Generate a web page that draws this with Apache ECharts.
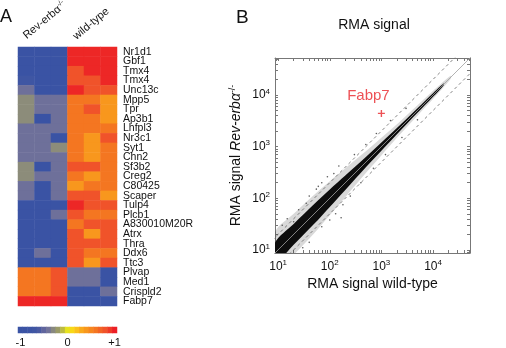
<!DOCTYPE html>
<html>
<head>
<meta charset="utf-8">
<script src="https://cdn.jsdelivr.net/npm/echarts@6/dist/echarts.min.js"></script>
<style>
  html, body { margin: 0; padding: 0; background: #fff; }
  #chart { width: 506px; height: 348px; }
</style>
</head>
<body>
<div id="chart"></div>
<script>
// ---- panel A: heatmap ----
const genes = ['Nr1d1', 'Gbf1', 'Tmx4', 'Tmx4', 'Unc13c', 'Mpp5', 'Tpr', 'Ap3b1', 'Lhfpl3',
  'Nr3c1', 'Syt1', 'Chn2', 'Sf3b2', 'Creg2', 'C80425', 'Scaper', 'Tulp4', 'Plcb1',
  'A830010M20R', 'Atrx', 'Thra', 'Ddx6', 'Ttc3', 'Plvap', 'Med1', 'Crispld2', 'Fabp7'];
const sampleCols = ['KO1', 'KO2', 'KO3', 'WT1', 'WT2', 'WT3'];
// normalised expression, one row per gene: 3 Rev-erba-/- then 3 wild-type
const expression = [
  [-0.95, -0.95, -0.95, 0.97, 0.97, 0.97],
  [-0.95, -0.95, -0.95, 0.97, 0.97, 0.97],
  [-0.95, -0.95, -0.95, 0.8, 0.97, 0.97],
  [-0.7, -0.95, -0.95, 0.8, 0.8, 0.97],
  [-0.42, -0.95, -0.95, 0.97, 0.8, 0.8],
  [-0.28, -0.42, -0.42, 0.6, 0.6, 0.4],
  [-0.28, -0.42, -0.42, 0.6, 0.8, 0.4],
  [-0.28, -0.95, -0.42, 0.6, 0.6, 0.4],
  [-0.42, -0.42, -0.42, 0.6, 0.6, 0.6],
  [-0.42, -0.42, -0.95, 0.6, 0.4, 0.8],
  [-0.42, -0.42, -0.28, 0.6, 0.4, 0.6],
  [-0.42, -0.42, -0.42, 0.6, 0.4, 0.6],
  [-0.28, -0.95, -0.42, 0.8, 0.8, 0.6],
  [-0.28, -0.42, -0.42, 0.6, 0.4, 0.6],
  [-0.42, -0.95, -0.42, 0.4, 0.6, 0.6],
  [-0.42, -0.95, -0.42, 0.8, 0.8, 0.4],
  [-0.95, -0.95, -0.95, 0.97, 0.8, 0.8],
  [-0.95, -0.95, -0.42, 0.8, 0.6, 0.6],
  [-0.95, -0.95, -0.95, 0.6, 0.8, 0.8],
  [-0.95, -0.95, -0.95, 0.8, 0.4, 0.8],
  [-0.95, -0.95, -0.95, 0.8, 0.8, 0.8],
  [-0.95, -0.42, -0.95, 0.8, 0.6, 0.6],
  [-0.95, -0.95, -0.95, 0.8, 0.4, 0.8],
  [0.6, 0.6, 0.8, -0.42, -0.42, -0.95],
  [0.6, 0.6, 0.8, -0.42, -0.42, -0.95],
  [0.6, 0.6, 0.8, -0.95, -0.95, -0.42],
  [0.97, 0.97, 0.97, -0.95, -0.95, -0.95]
];
const colorbarSteps = [-1, -0.9, -0.8, -0.7, -0.6, -0.5, -0.4, -0.3, -0.2, -0.1, 0,
  0.1, 0.2, 0.3, 0.4, 0.5, 0.6, 0.7, 0.8, 0.9, 1];
const colorbarLabels = ['-1', '0', '+1'];
const palette = ['#3953a4', '#3a53a4', '#3c54a4', '#3f56a3', '#4a5aa1', '#60659d', '#727399',
  '#88887f', '#9a9a66', '#bcbb40', '#e6e21e', '#f8d817', '#fbc01a', '#f9a91c', '#f8971d',
  '#f6861f', '#f47621', '#f26426', '#f0532a', '#ee3a27', '#ec1f25'];

// ---- panel B: scatter (RMA signal, log-log) ----
const bandX     = [8.7, 20, 50, 100, 200, 500, 1000, 2000, 5000, 10000, 16000];
const coreHigh  = [13.8, 31.7, 77, 148, 276, 629, 1202, 2296, 5545, 10840, 16750];
const coreLow   = [5.5, 12.6, 32, 68, 145, 397, 832, 1742, 4509, 9226, 15280];
const haloX     = [8.7, 20, 50, 100, 200, 500, 1000, 2000, 5000, 10000, 22000];
const haloHigh  = [21.9, 50, 117, 214, 381, 811, 1479, 2698, 6295, 12020, 23580];
const haloLow   = [3.5, 8, 21, 47, 105, 308, 676, 1483, 3972, 8318, 20520];
const outliers = [
  [15, 40], [25, 60], [40, 110], [60, 170], [90, 260], [150, 420], [300, 700],
  [500, 1100], [800, 1800], [1500, 3200], [3000, 5500], [20, 35], [35, 80], [70, 200],
  [120, 300], [20, 7.5], [40, 14], [70, 28], [130, 50], [250, 110], [400, 200],
  [700, 380], [1200, 700], [2500, 1500], [5000, 3300], [30, 11], [100, 38], [180, 75],
  [166, 42], [12, 30], [55, 150]
];
const fabp7 = [1000, 4400];
const foldLines = [1, 2, 0.5];
const axisRange = [8.7, 52000];
const majorTicks = [10, 100, 1000, 10000];
const minorTicks = [9, 20, 30, 40, 50, 60, 70, 80, 90, 200, 300, 400, 500, 600, 700, 800, 900,
  2000, 3000, 4000, 5000, 6000, 7000, 8000, 9000, 20000, 30000, 40000, 50000];

const FONT = "'Liberation Sans', Arial, sans-serif";
const chart = echarts.init(document.getElementById('chart'));

const heatData = [];
expression.forEach((row, r) => row.forEach((v, c) => heatData.push([c, r, v])));
const barData = colorbarSteps.map((v, i) => [i, 0, v]);

const powLabel = v => '{b|10}{e|' + Math.round(Math.log10(v)) + '}';
const powRich = {
  b: { fontSize: 12, fontFamily: FONT, color: '#111' },
  e: { fontSize: 8, fontFamily: FONT, color: '#111', padding: [0, 0, 7, 0] }
};
const frameAxis = (extra) => Object.assign({
  type: 'log', gridIndex: 2, min: axisRange[0], max: axisRange[1],
  axisLine: { show: true, lineStyle: { color: '#777', width: 1 } },
  axisTick: { show: true, inside: true, length: 3, customValues: majorTicks.concat(minorTicks),
    lineStyle: { color: '#777' } },
  axisLabel: { show: false },
  splitLine: { show: false }
}, extra);

const option = {
  animation: false,
  backgroundColor: '#fff',
  grid: [
    { left: 18, top: 47, width: 99, height: 259 },
    { left: 18, top: 327, width: 99, height: 7 },
    { left: 275, top: 58, width: 195, height: 195 }
  ],
  visualMap: {
    type: 'continuous', show: false, min: -1, max: 1, seriesIndex: [0, 1],
    inRange: { color: palette }
  },
  xAxis: [
    { type: 'category', gridIndex: 0, data: sampleCols, show: false },
    { type: 'category', gridIndex: 1, data: colorbarSteps.map(String),
      axisLine: { show: false }, axisTick: { show: false },
      axisLabel: { interval: 9, margin: 4, fontSize: 11, fontFamily: FONT, color: '#111',
        formatter: (v, i) => colorbarLabels[Math.round(i / 10)] } },
    frameAxis({ position: 'bottom',
      axisLabel: { show: true, customValues: majorTicks, margin: 6, formatter: powLabel, rich: powRich },
      name: 'RMA signal wild-type', nameLocation: 'middle', nameGap: 19,
      nameTextStyle: { fontSize: 14, fontFamily: FONT, color: '#111' } }),
    frameAxis({ position: 'top' })
  ],
  yAxis: [
    { type: 'category', gridIndex: 0, data: genes, inverse: true, position: 'right',
      axisLine: { show: false }, axisTick: { show: false },
      axisLabel: { interval: 0, margin: 6, fontSize: 10.5, lineHeight: 10, fontFamily: FONT, color: '#111' } },
    { type: 'category', gridIndex: 1, data: ['bar'], show: false },
    frameAxis({ position: 'left',
      axisLabel: { show: true, customValues: majorTicks, margin: 5, formatter: powLabel, rich: powRich },
      name: '{n|RMA signal }{i|Rev-erbα}{s|-/-}', nameLocation: 'middle', nameGap: 30, nameRotate: 90,
      nameTextStyle: { fontSize: 14, fontFamily: FONT, color: '#111', rich: {
        n: { fontSize: 14, fontFamily: FONT, color: '#111' },
        i: { fontSize: 14, fontFamily: FONT, color: '#111', fontStyle: 'italic' },
        s: { fontSize: 9, fontFamily: FONT, color: '#111', padding: [0, 0, 8, 0] } } } }),
    frameAxis({ position: 'right' })
  ],
  series: [
    { type: 'heatmap', xAxisIndex: 0, yAxisIndex: 0, data: heatData, itemStyle: { borderWidth: 0 } },
    { type: 'heatmap', xAxisIndex: 1, yAxisIndex: 1, data: barData, itemStyle: { borderWidth: 0 } },
    {
      type: 'custom', xAxisIndex: 2, yAxisIndex: 2, clip: true, silent: true, data: [0], z: 1,
      renderItem: (params, api) => {
        const halo = [];
        haloX.forEach((x, i) => halo.push(api.coord([x, haloHigh[i]])));
        for (let i = haloX.length - 1; i >= 0; i--) halo.push(api.coord([haloX[i], haloLow[i]]));
        const core = [];
        bandX.forEach((x, i) => core.push(api.coord([x, coreHigh[i]])));
        for (let i = bandX.length - 1; i >= 0; i--) core.push(api.coord([bandX[i], coreLow[i]]));
        return { type: 'group', children: [
          { type: 'polygon', shape: { points: halo, smooth: 0.3 }, style: { fill: 'rgba(0,0,0,0.15)' } },
          { type: 'polygon', shape: { points: core, smooth: 0.3 }, style: { fill: '#0d0d0d' } }
        ] };
      }
    },
    { type: 'scatter', xAxisIndex: 2, yAxisIndex: 2, data: outliers, symbolSize: 1.6, z: 2,
      itemStyle: { color: '#333' }, silent: true },
    ...foldLines.map(k => ({
      type: 'line', xAxisIndex: 2, yAxisIndex: 2, clip: true, symbol: 'none', silent: true, z: 3,
      data: [[axisRange[0] / 2, axisRange[0] / 2 * k], [axisRange[1] * 2, axisRange[1] * 2 * k]],
      lineStyle: k === 1 ? { color: '#a0a0a0', width: 0.8 } : { color: '#666', width: 0.8, type: [3, 3] }
    })),
    { type: 'scatter', xAxisIndex: 2, yAxisIndex: 2, data: [fabp7], z: 4,
      symbol: 'path://M4,0H6V4H10V6H6V10H4V6H0V4H4Z', symbolSize: 7,
      itemStyle: { color: '#e8262a' },
      label: { show: true, formatter: 'Fabp7', position: 'top', offset: [-13, -2],
        fontSize: 15, fontFamily: FONT, color: '#e8262a' } }
  ],
  graphic: [
    { type: 'text', x: 0, y: 8, style: { text: 'A', fontSize: 18, fontFamily: FONT, fill: '#111' } },
    { type: 'text', x: 236, y: 8, style: { text: 'B', fontSize: 19, fontFamily: FONT, fill: '#111' } },
    { type: 'text', x: 374, y: 25, style: { text: 'RMA signal', fontSize: 14, fontFamily: FONT, fill: '#111',
      textAlign: 'center', textVerticalAlign: 'middle' } },
    { type: 'text', x: 29, y: 42, rotation: 40 * Math.PI / 180,
      style: { text: '{a|Rev-erbα}{s|-/-}', textAlign: 'left', textVerticalAlign: 'bottom',
        fontSize: 11, fontFamily: FONT, fill: '#111',
        rich: { a: { fontSize: 11, fontFamily: FONT }, s: { fontSize: 7, fontFamily: FONT, padding: [0, 0, 6, 0] } } } },
    { type: 'text', x: 78, y: 42, rotation: 40 * Math.PI / 180,
      style: { text: 'wild-type', textAlign: 'left', textVerticalAlign: 'bottom',
        fontSize: 11, fontFamily: FONT, fill: '#111' } }
  ]
};

chart.setOption(option);
</script>
</body>
</html>
